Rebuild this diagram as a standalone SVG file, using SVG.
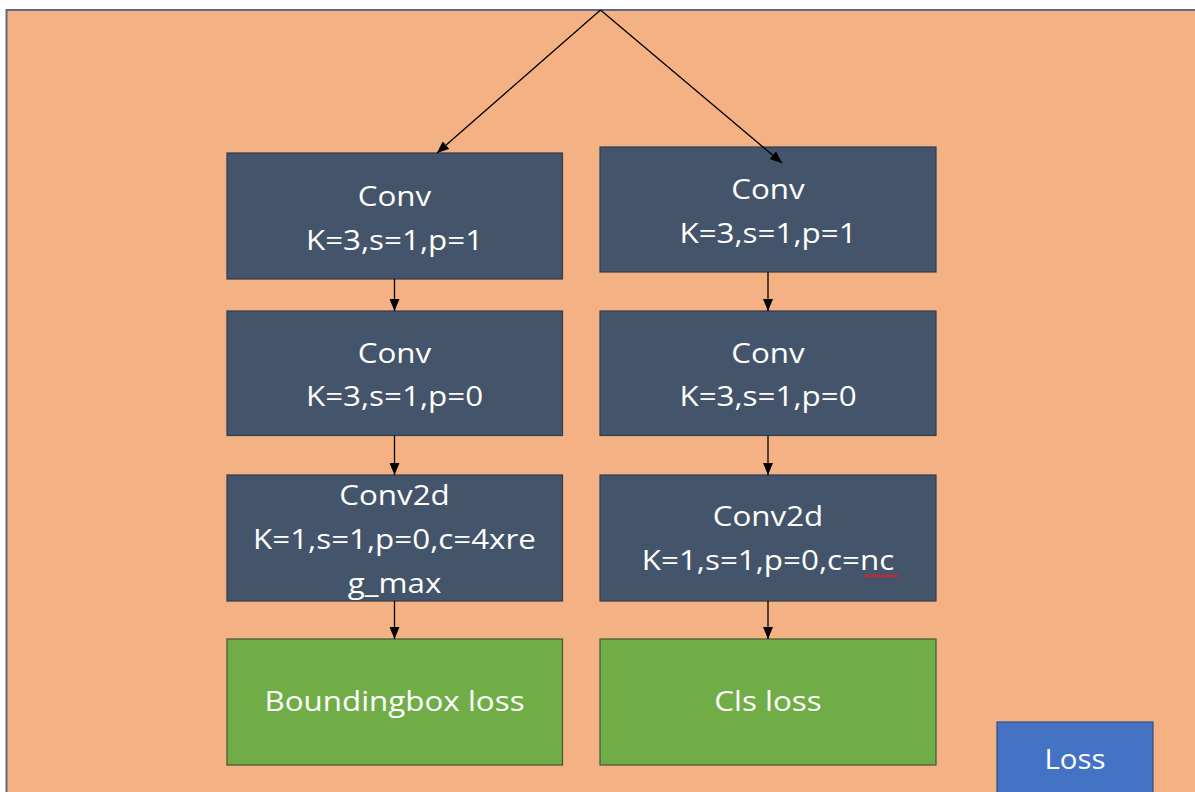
<svg xmlns="http://www.w3.org/2000/svg" width="1195" height="792" viewBox="0 0 1195 792">
  <style>
    .panel { fill: #F4B183; stroke: #5B6A86; stroke-width: 2; }
    .conv { fill: #44546A; stroke: #2F3D52; stroke-width: 1.2; }
    .loss { fill: #70AD47; stroke: #3E5634; stroke-width: 1.2; }
    .total { fill: #4472C4; stroke: #2F4F7F; stroke-width: 1.2; }
    .lbl { font-family: "Open Sans", "Noto Sans", "Liberation Sans", sans-serif; font-size: 28px; fill: #FFFFFF; text-anchor: middle; }
    .wire { stroke: #000000; stroke-width: 1.3; fill: none; marker-end: url(#head); }
    .squiggle { stroke: #E8202A; stroke-width: 1.2; fill: none; }
  </style>
  <defs>
    <marker id="head" markerUnits="userSpaceOnUse" markerWidth="12" markerHeight="10" refX="12" refY="5" orient="auto">
      <path d="M0,0 L12,5 L0,10 Z" fill="#000000"/>
    </marker>
  </defs>

  <rect x="0" y="0" width="1195" height="792" fill="#FFFFFF"/>
  <!-- background panel -->
  <rect class="panel" x="6.5" y="10" width="1190" height="800"/>

  <!-- left branch -->
  <g id="conv-left-1">
    <rect class="conv" x="227" y="153" width="335.5" height="126"/>
    <g transform="translate(394.5,0) scale(1.12,1)">
      <text class="lbl" x="0" y="206.5">Conv</text>
      <text class="lbl" x="0" y="250">K=3,s=1,p=1</text>
    </g>
  </g>
  <g id="conv-left-2">
    <rect class="conv" x="227" y="311" width="335.5" height="124.5"/>
    <g transform="translate(394.5,0) scale(1.12,1)">
      <text class="lbl" x="0" y="363.5">Conv</text>
      <text class="lbl" x="0" y="406">K=3,s=1,p=0</text>
    </g>
  </g>
  <g id="conv2d-left">
    <rect class="conv" x="227" y="475" width="335.5" height="126"/>
    <g transform="translate(394.5,0) scale(1.12,1)">
      <text class="lbl" x="0" y="505.5">Conv2d</text>
      <text class="lbl" x="0" y="549.5">K=1,s=1,p=0,c=4xre</text>
      <text class="lbl" x="0" y="593">g_max</text>
    </g>
  </g>
  <g id="bbox-loss">
    <rect class="loss" x="227" y="639" width="335.5" height="126"/>
    <g transform="translate(394.5,0) scale(1.12,1)">
      <text class="lbl" x="0" y="711.5">Boundingbox loss</text>
    </g>
  </g>

  <!-- right branch -->
  <g id="conv-right-1">
    <rect class="conv" x="600" y="147" width="336" height="125"/>
    <g transform="translate(768,0) scale(1.12,1)">
      <text class="lbl" x="0" y="199.5">Conv</text>
      <text class="lbl" x="0" y="243.5">K=3,s=1,p=1</text>
    </g>
  </g>
  <g id="conv-right-2">
    <rect class="conv" x="600" y="311" width="336" height="124.5"/>
    <g transform="translate(768,0) scale(1.12,1)">
      <text class="lbl" x="0" y="363.5">Conv</text>
      <text class="lbl" x="0" y="406">K=3,s=1,p=0</text>
    </g>
  </g>
  <g id="conv2d-right">
    <rect class="conv" x="600" y="475" width="336" height="126"/>
    <g transform="translate(768,0) scale(1.12,1)">
      <text class="lbl" x="0" y="526.5">Conv2d</text>
      <text class="lbl" x="0" y="570">K=1,s=1,p=0,c=nc</text>
    </g>
    <!-- spell-check wave under "nc" -->
    <polyline class="squiggle" points="864,575 865.5,577 867,575 868.5,577 870,575 871.5,577 873,575 874.5,577 876,575 877.5,577 879,575 880.5,577 882,575 883.5,577 885,575 886.5,577 888,575 889.5,577 891,575 892.5,577 894,575 895.5,577 897,575 898.5,577"/>
  </g>
  <g id="cls-loss">
    <rect class="loss" x="600" y="639" width="336" height="126"/>
    <g transform="translate(768,0) scale(1.12,1)">
      <text class="lbl" x="0" y="711.5">Cls loss</text>
    </g>
  </g>

  <!-- legend -->
  <g id="loss-legend">
    <rect class="total" x="997" y="722" width="156" height="90"/>
    <g transform="translate(1075,0) scale(1.05,1)">
      <text class="lbl" x="0" y="769.5">Loss</text>
    </g>
  </g>

  <!-- connectors, drawn over the boxes -->
  <g id="connectors">
    <line class="wire" x1="600.5" y1="10" x2="437" y2="153"/>
    <line class="wire" x1="600.5" y1="10" x2="782" y2="163"/>
    <line class="wire" x1="394.5" y1="279" x2="394.5" y2="311"/>
    <line class="wire" x1="394.5" y1="435.5" x2="394.5" y2="475"/>
    <line class="wire" x1="394.5" y1="601" x2="394.5" y2="639"/>
    <line class="wire" x1="768" y1="272" x2="768" y2="311"/>
    <line class="wire" x1="768" y1="435.5" x2="768" y2="475"/>
    <line class="wire" x1="768" y1="601" x2="768" y2="639"/>
  </g>
</svg>
